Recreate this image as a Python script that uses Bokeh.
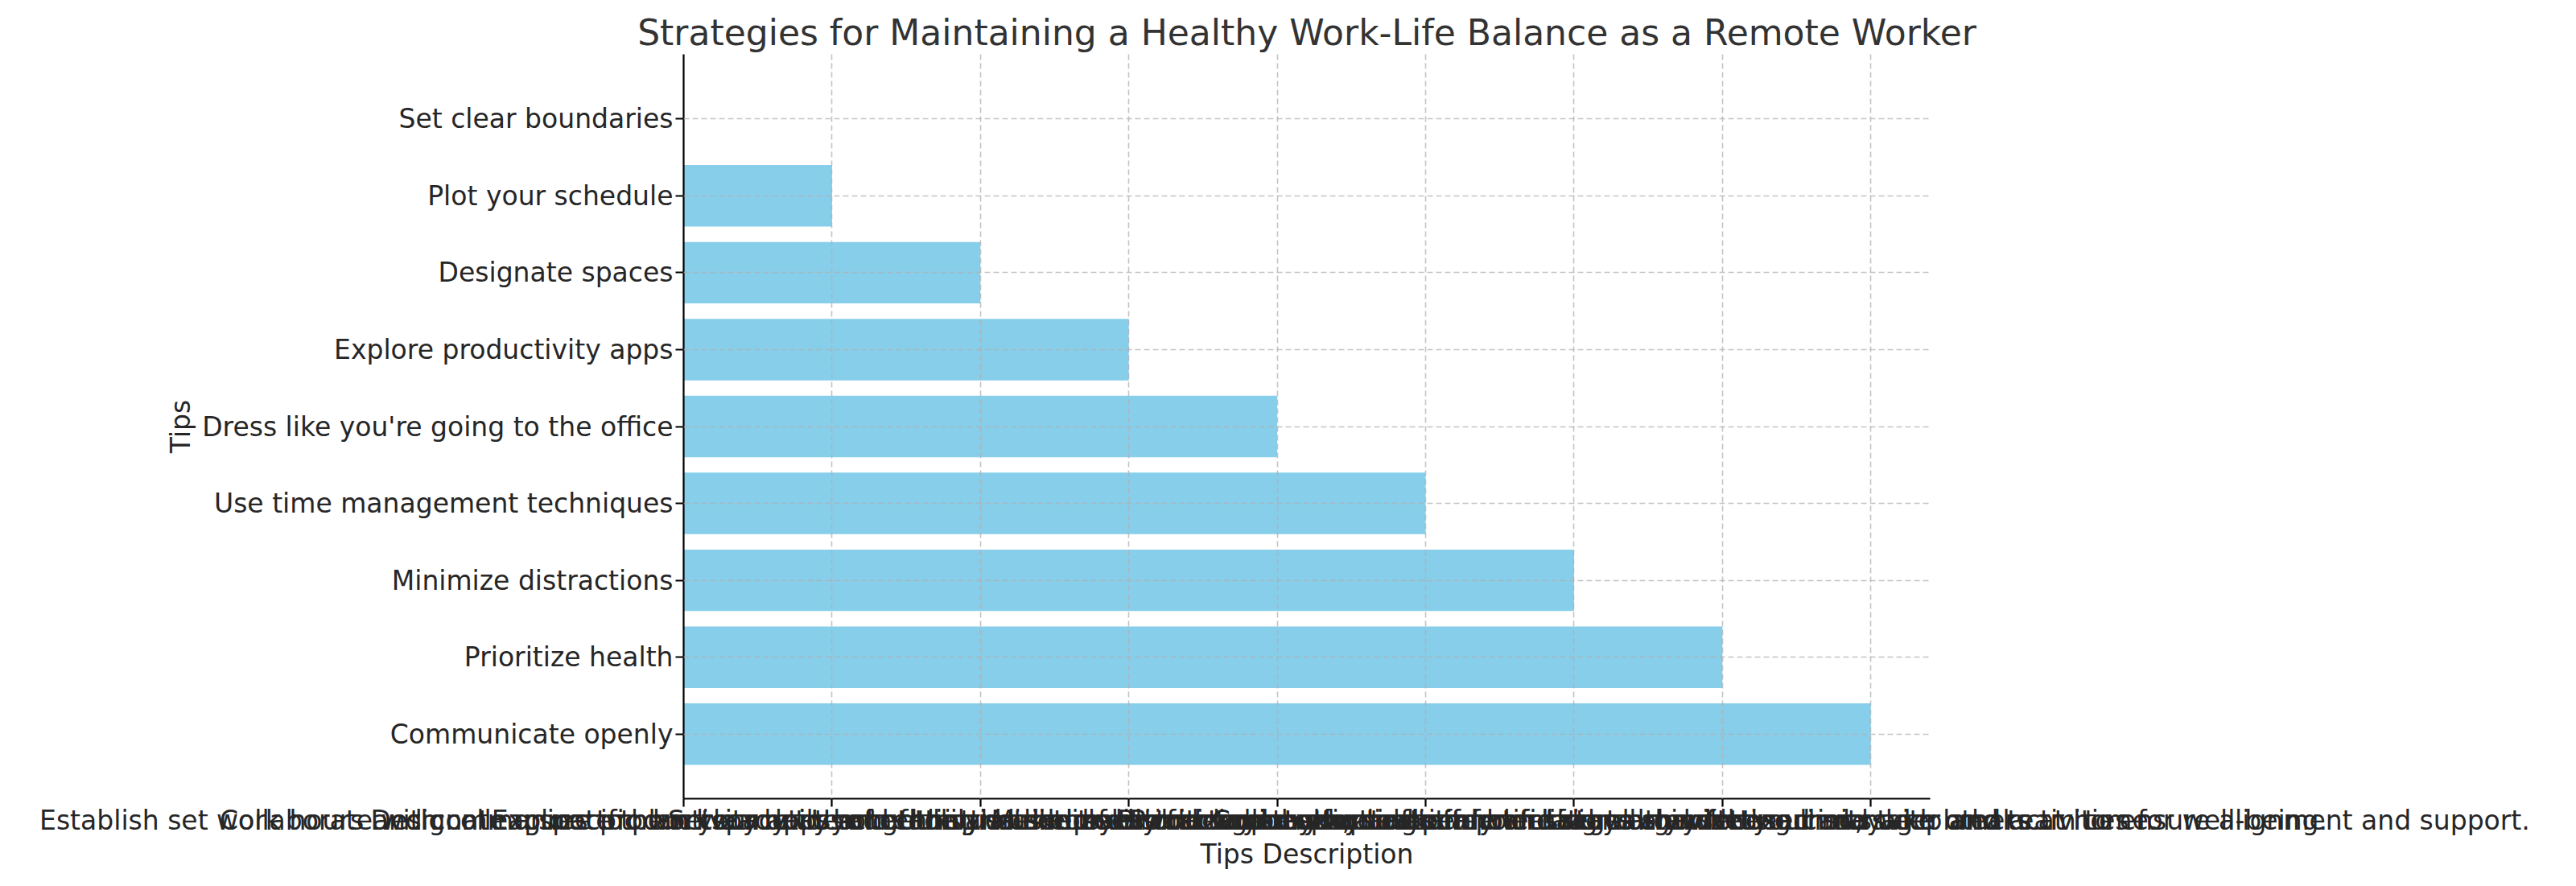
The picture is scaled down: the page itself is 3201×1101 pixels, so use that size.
from bokeh.plotting import figure
from bokeh.models import Range1d, FixedTicker
from bokeh.embed import file_html
from bokeh.resources import INLINE

tips = [
    "Set clear boundaries",
    "Plot your schedule",
    "Designate spaces",
    "Explore productivity apps",
    "Dress like you're going to the office",
    "Use time management techniques",
    "Minimize distractions",
    "Prioritize health",
    "Communicate openly",
]
descriptions = [
    "Establish set work hours and communicate them clearly to your family and household members.",
    "Collaborate with colleagues to plan your daily schedule and set realistic deadlines for tasks.",
    "Designate a specific workspace at home that is used solely for work to separate it from life.",
    "Explore productivity apps and tools that help you manage tasks, track time and stay organized.",
    "Set a routine of getting dressed for work to put yourself in a professional mindset each day.",
    "Use techniques like the Pomodoro method or time blocking to stay focused and take breaks.",
    "Minimize distractions by turning off notifications and setting limits with others at home.",
    "Prioritize your physical and mental health with exercise, sleep and activities for well-being.",
    "Communicate openly and regularly with your manager and team to ensure alignment and support.",
]
bar_values = [0, 1, 2, 3, 4, 5, 6, 7, 8]
positions = list(range(len(tips)))

FONT = "DejaVu Sans"

p = figure(
    frame_width=1549,
    frame_height=925,
    x_range=Range1d(0, 8.4),
    y_range=Range1d(8.84, -0.84),
    output_backend="svg",
    toolbar_location=None,
    min_border_left=849,
    min_border_right=787,
    min_border_top=67,
    min_border_bottom=20,
)
p.outline_line_color = None
p.background_fill_color = "white"

p.title.text = "Strategies for Maintaining a Healthy Work-Life Balance as a Remote Worker"
p.title.align = "center"
p.title.text_font = FONT
p.title.text_font_size = "44px"
p.title.text_font_style = "normal"
p.title.text_color = "#333333"
p.title.standoff = 4

p.hbar(y=positions, left=0, right=bar_values, height=0.8,
       fill_color="#87CEEB", line_color=None)

for ax in (p.xaxis, p.yaxis):
    ax.axis_line_color = "black"
    ax.axis_line_width = 2.2
    ax.major_tick_line_color = "black"
    ax.major_tick_line_width = 2.2
    ax.major_tick_out = 10
    ax.major_tick_in = 0
    ax.minor_tick_line_color = None
    ax.major_label_text_font = FONT
    ax.major_label_text_font_size = "33px"
    ax.major_label_text_color = "#262626"
    ax.axis_label_text_font = FONT
    ax.axis_label_text_font_size = "33px"
    ax.axis_label_text_font_style = "normal"
    ax.axis_label_text_color = "#262626"

p.xaxis.ticker = FixedTicker(ticks=positions)
p.xaxis.major_label_overrides = {i: d for i, d in enumerate(descriptions)}
p.xaxis.axis_label = "Tips Description"
p.xaxis.major_label_standoff = -3
p.xaxis.axis_label_standoff = 0

p.yaxis.ticker = FixedTicker(ticks=positions)
p.yaxis.major_label_overrides = {i: t for i, t in enumerate(tips)}
p.yaxis.axis_label = "Tips"
p.yaxis.major_label_standoff = 3
p.yaxis.axis_label_standoff = 4

for g in (p.xgrid, p.ygrid):
    g.grid_line_color = "#b0b0b0"
    g.grid_line_alpha = 0.75
    g.grid_line_width = 1.6
    g.grid_line_dash = "7 4"
    g.level = "annotation"
p.xgrid.ticker = FixedTicker(ticks=positions)
p.ygrid.ticker = FixedTicker(ticks=positions)

open("out.html", "w").write(file_html(p, INLINE))
